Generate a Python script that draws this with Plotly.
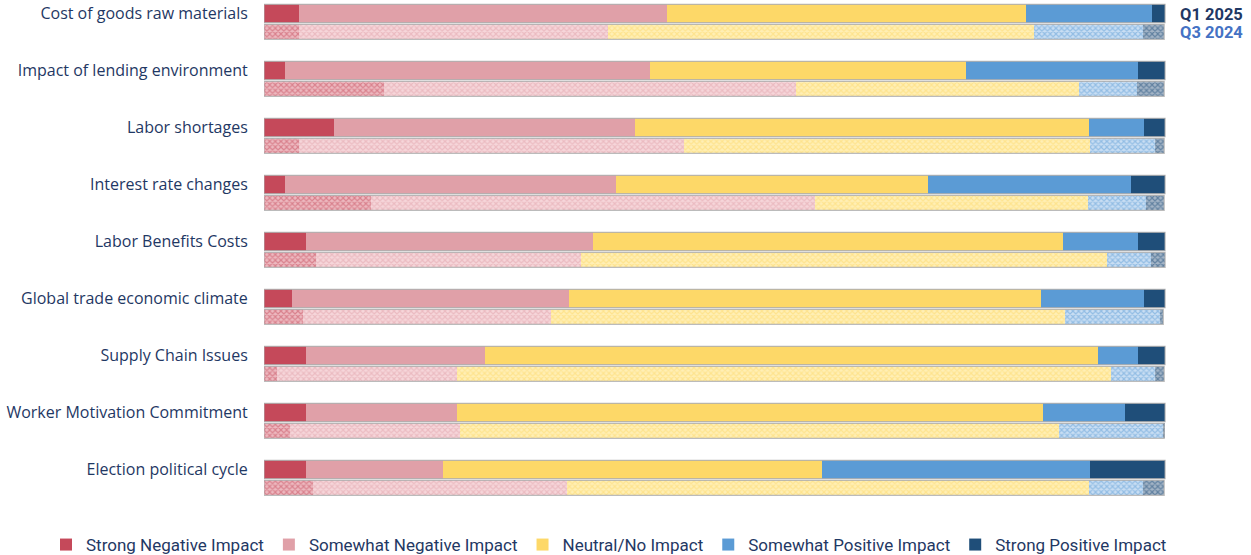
import plotly.graph_objects as go

categories = [
    "Cost of goods raw materials",
    "Impact of lending environment",
    "Labor shortages",
    "Interest rate changes",
    "Labor Benefits Costs",
    "Global trade economic climate",
    "Supply Chain Issues",
    "Worker Motivation Commitment",
    "Election political cycle",
]
impact_levels = ["Strong Negative Impact", "Somewhat Negative Impact", "Neutral/No Impact",
                 "Somewhat Positive Impact", "Strong Positive Impact"]

# Q1 2025 (solid bars) - percentages per category, per impact level
q1_strong_neg = [3.9, 2.3, 7.8, 2.3, 4.7, 3.1, 4.7, 4.7, 4.7]
q1_some_neg = [40.8, 40.5, 33.4, 36.8, 31.8, 30.8, 19.8, 16.7, 15.2]
q1_neutral = [39.9, 35.1, 50.4, 34.6, 52.2, 52.3, 68.0, 65.0, 42.0]
q1_some_pos = [13.9, 19.1, 6.1, 22.5, 8.3, 11.5, 4.5, 9.1, 29.8]
q1_strong_pos = [1.5, 3.0, 2.3, 3.8, 3.0, 2.3, 3.0, 4.5, 8.3]

# Q3 2024 (hatched bars)
q3_strong_neg = [3.9, 13.3, 3.9, 11.9, 5.8, 4.3, 1.4, 2.9, 5.4]
q3_some_neg = [34.3, 45.7, 42.7, 49.2, 29.4, 27.5, 20.0, 18.8, 28.2]
q3_neutral = [47.3, 31.4, 45.1, 30.3, 58.4, 57.1, 72.6, 66.5, 58.0]
q3_some_pos = [12.0, 6.5, 7.2, 6.5, 4.8, 10.5, 4.9, 11.6, 5.9]
q3_strong_pos = [2.4, 3.0, 1.0, 2.0, 1.6, 0.4, 1.0, 0.1, 2.4]

period_labels = ["Q1 2025", "Q3 2024"]

colors = ["#C5495A", "#E0A0A8", "#FDD868", "#5B9BD5", "#1F4E79"]
tints = ["#EDB9C0", "#F6D6DA", "#FFEFB5", "#C9DEF3", "#A3B4C6"]

q1 = [q1_strong_neg, q1_some_neg, q1_neutral, q1_some_pos, q1_strong_pos]
q3 = [q3_strong_neg, q3_some_neg, q3_neutral, q3_some_pos, q3_strong_pos]

# layout geometry (vertical axis measured in pixels from top of the plot)
ROW = 57.0
Q1_C = 13.5
Q3_C = 31.8
Q1_W = 18.4
Q3_W = 15.0
PLOT_H = 500
W, H = 1251, 555
L, R = 264, 1166

n = len(categories)
y_q1 = [Q1_C + ROW * i for i in range(n)]
y_q3 = [Q3_C + ROW * i for i in range(n)]

fig = go.Figure()
for k in range(5):
    fig.add_trace(go.Bar(
        orientation="h", x=q1[k], y=y_q1, width=Q1_W,
        name=impact_levels[k], legendgroup=impact_levels[k],
        marker=dict(color=colors[k], line=dict(width=0)),
        hovertemplate="%{x:.1f}%<extra>" + impact_levels[k] + " " + period_labels[0] + "</extra>",
    ))
for k in range(5):
    fig.add_trace(go.Bar(
        orientation="h", x=q3[k], y=y_q3, width=Q3_W,
        name=impact_levels[k], legendgroup=impact_levels[k], showlegend=False,
        marker=dict(color=tints[k], line=dict(width=0),
                    pattern=dict(shape="x", size=4, solidity=0.5,
                                 fgcolor=colors[k], bgcolor=tints[k], fillmode="overlay")),
        hovertemplate="%{x:.1f}%<extra>" + impact_levels[k] + " " + period_labels[1] + "</extra>",
    ))

# outlines around each bar
shapes = []
for i in range(n):
    t1 = sum(s[i] for s in q1)
    t3 = sum(s[i] for s in q3)
    shapes.append(dict(type="rect", xref="x", yref="y", x0=0, x1=t1,
                       y0=y_q1[i] - Q1_W / 2, y1=y_q1[i] + Q1_W / 2,
                       line=dict(color="rgba(175,175,175,0.85)", width=1.2)))
    shapes.append(dict(type="rect", xref="x", yref="y", x0=0, x1=t3,
                       y0=y_q3[i] - Q3_W / 2, y1=y_q3[i] + Q3_W / 2,
                       line=dict(color="rgba(175,175,175,0.85)", width=1.2)))

plot_w = R - L

fig.update_layout(
    width=W, height=H,
    barmode="stack", bargap=0,
    plot_bgcolor="white", paper_bgcolor="white",
    margin=dict(l=L, r=W - R, t=0, b=H - PLOT_H, autoexpand=False),
    font=dict(family="Open Sans", color="#1F3864", size=16),
    shapes=shapes,
    xaxis=dict(range=[0, 100.1], visible=False, fixedrange=True),
    yaxis=dict(range=[PLOT_H, 0], tickvals=y_q1, ticktext=categories, fixedrange=True,
               showgrid=False, zeroline=False, showline=False,
               ticks="outside", ticklen=12, tickcolor="rgba(0,0,0,0)",
               tickfont=dict(family="Open Sans", size=16, color="#1F3864")),
    legend=dict(orientation="h", xref="paper", yref="paper",
                x=(86 - 40 - L) / plot_w, xanchor="left",
                y=-(545 - PLOT_H) / PLOT_H, yanchor="middle",
                traceorder="normal", font=dict(family="Roboto", size=17, color="#1F3864"),
                itemwidth=30),
    annotations=[
        dict(xref="x", yref="y", x=100, y=Q1_C + 0.5, xshift=13, xanchor="left", yanchor="middle",
             text="<b>" + period_labels[0] + "</b>", showarrow=False,
             font=dict(family="Roboto", size=16.5, color="#1F3864")),
        dict(xref="x", yref="y", x=100, y=Q3_C + 0.8, xshift=13, xanchor="left", yanchor="middle",
             text="<b>" + period_labels[1] + "</b>", showarrow=False,
             font=dict(family="Roboto", size=16.5, color="#4472C4")),
    ],
)

fig.write_html("out.html", config={"displayModeBar": False},
               post_script="document.body.style.margin='0';")
